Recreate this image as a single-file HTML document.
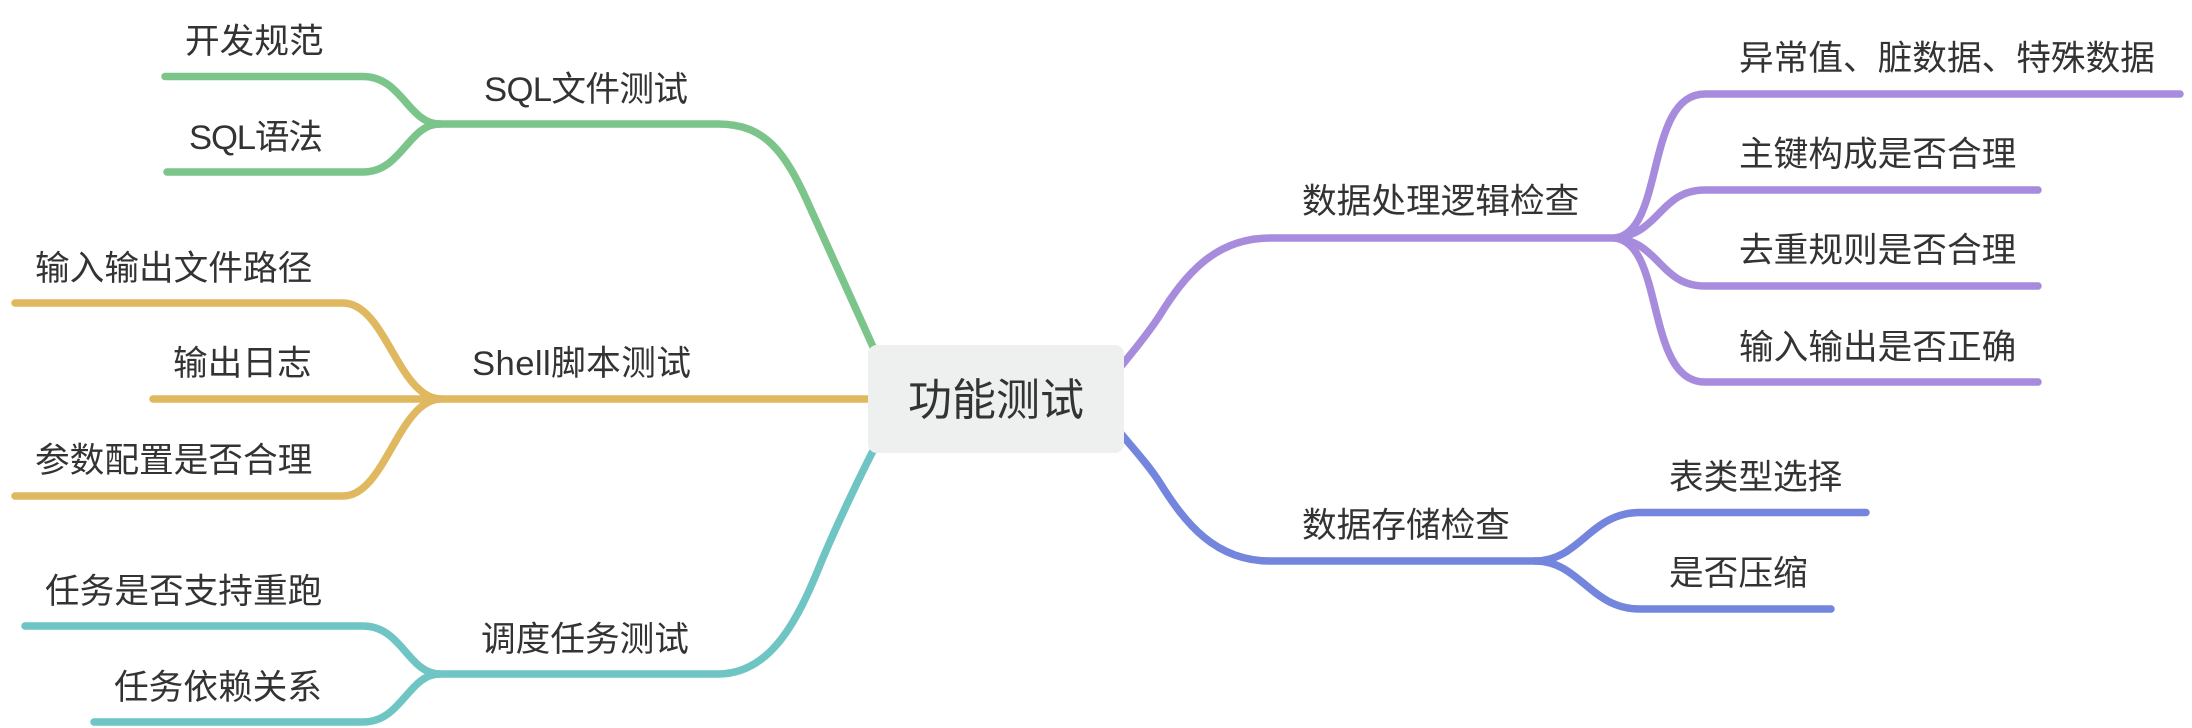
<!DOCTYPE html>
<html lang="zh">
<head>
<meta charset="utf-8">
<title>功能测试</title>
<style>
html,body{margin:0;padding:0;background:#fff;width:2192px;height:728px;overflow:hidden}
svg{display:block}
text{font-family:"Liberation Sans","Noto Sans CJK SC",sans-serif;font-size:34.67px;fill:#333}
path{fill:none;stroke-width:7.5;stroke-linecap:round}
</style>
</head>
<body>
<svg width="2192" height="728" viewBox="0 0 2192 728" xmlns="http://www.w3.org/2000/svg">
<g stroke="#7bc48a">
<path d="M874 349 L808 203 C785 152 765 124 718 124 L440 124"/>
<path d="M440 124 C408 124 402 76.500 363 76.500 L165 76.500"/>
<path d="M440 124 C408 124 402 172 363 172 L167 172"/>
</g>
<g stroke="#dfb85f">
<path d="M868 399 L440 399"/>
<path d="M440 399 C398 397 385 303 343 303 L15 303"/>
<path d="M440 399 L153 399"/>
<path d="M440 399 C398 401 385 496 343 496 L15 496"/>
</g>
<g stroke="#6fc5c4">
<path d="M874 449 C858 480 834 531 820 565 C797 622 770 674 718 674 L440 674"/>
<path d="M440 674 C408 674 402 626 363 626 L25 626"/>
<path d="M440 674 C408 674 402 722 363 722 L94 722"/>
</g>
<g stroke="#a78bdd">
<path d="M1118 370 C1130 355 1148 334 1160 315 C1185 275 1215 238 1270 238 L1615 238"/>
<path d="M1615 238 C1665 232 1645 94 1705 94 L2180 94"/>
<path d="M1615 238 C1660 234 1660 190 1705 190 L2038 190"/>
<path d="M1615 238 C1660 242 1660 286 1705 286 L2038 286"/>
<path d="M1615 238 C1665 244 1645 382 1705 382 L2038 382"/>
</g>
<g stroke="#7385dc">
<path d="M1118 430 C1130 445 1148 464 1160 483 C1185 523 1215 561 1270 561 L1535 561"/>
<path d="M1535 561 C1580 561 1590 512.500 1640 512.500 L1866 512.500"/>
<path d="M1535 561 C1580 561 1590 609 1640 609 L1831 609"/>
</g>
<rect x="868" y="345" width="256" height="108" rx="9" ry="9" fill="#eef0f0"/>
<text x="996" y="415" text-anchor="middle" style="font-size:44px">功能测试</text>

<text x="185" y="53">开发规范</text>
<text x="189" y="149" textLength="134">SQL语法</text>
<text x="484" y="101" textLength="204">SQL文件测试</text>
<text x="35" y="280">输入输出文件路径</text>
<text x="173" y="375">输出日志</text>
<text x="35" y="472">参数配置是否合理</text>
<text x="472" y="375" textLength="219">Shell脚本测试</text>
<text x="45" y="603">任务是否支持重跑</text>
<text x="114" y="699">任务依赖关系</text>
<text x="481" y="651">调度任务测试</text>

<text x="1739" y="70">异常值、脏数据、特殊数据</text>
<text x="1739" y="166">主键构成是否合理</text>
<text x="1739" y="262">去重规则是否合理</text>
<text x="1739" y="359">输入输出是否正确</text>
<text x="1302" y="213">数据处理逻辑检查</text>
<text x="1302" y="537">数据存储检查</text>
<text x="1669" y="489">表类型选择</text>
<text x="1669" y="585">是否压缩</text>
</svg>
</body>
</html>
